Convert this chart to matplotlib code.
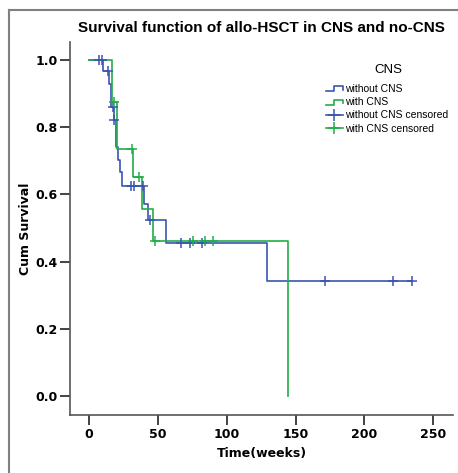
import numpy as np
import matplotlib
matplotlib.use("Agg")
from matplotlib import pyplot as plt
from matplotlib.lines import Line2D
from matplotlib.legend_handler import HandlerBase

# 无 CNS 组：事件时间 / 生存率
time_no = [0, 10.4, 14.5, 15.7, 17.9, 19.8, 21.0, 22.2, 23.7, 39.9, 43.1, 55.9, 129.5]
surv_no = [1.0, 0.968, 0.93, 0.861, 0.821, 0.742, 0.704, 0.666, 0.626, 0.573, 0.524, 0.456, 0.341]
cens_no = [7.3, 9.7, 13.6, 17.5, 18.4, 30.5, 32.9, 39.0, 44.3, 66.8, 73.3, 81.8, 171.4, 221.0, 234.3]

# CNS 组
time_cns = [0, 16.5, 20.6, 32.2, 38.2, 46.7, 144.3]
surv_cns = [1.0, 0.876, 0.734, 0.651, 0.556, 0.462, 0.0]
cens_cns = [18.4, 31.5, 36.3, 47.9, 75.3, 84.2, 90.3]

x_ticks = [0, 50, 100, 150, 200, 250]
y_ticks = [0.0, 0.2, 0.4, 0.6, 0.8, 1.0]

blue = '#3a55b0'
green = '#22ad48'


def surv_at(times, surv, t):
    idx = np.searchsorted(times, t, side='right') - 1
    return np.array(surv)[idx]


class StepHandler(HandlerBase):
    # 图例里画成小台阶
    def create_artists(self, legend, orig_handle, xdescent, ydescent, width, height, fontsize, trans):
        x0 = -xdescent
        y0 = -ydescent
        xs = [x0, x0 + width * 0.5, x0 + width * 0.5, x0 + width, x0 + width]
        ys = [y0 + height * 0.1, y0 + height * 0.1, y0 + height * 0.8, y0 + height * 0.8, y0 + height * 0.3]
        ln = Line2D(xs, ys, color=orig_handle.get_color(), lw=1.2, transform=trans)
        return [ln]


plt.rcParams['font.family'] = ['Liberation Sans', 'DejaVu Sans']
fig = plt.figure(figsize=(4.58, 4.73), dpi=100)
ax = fig.add_axes([0.1528, 0.1226, 0.8362, 0.7886])

# 外框
fig.add_artist(Line2D([9 / 458, 9 / 458], [0, 1 - 10 / 473], transform=fig.transFigure, color='#808080', lw=1.5))
fig.add_artist(Line2D([9 / 458, 1], [1 - 10 / 473, 1 - 10 / 473], transform=fig.transFigure, color='#808080', lw=1.5))

# 生存曲线
xb = time_no + [max(cens_no)]
yb = surv_no + [surv_no[-1]]
ax.plot(xb, yb, drawstyle='steps-post', color=blue, lw=1.2)
ax.plot(time_cns, surv_cns, drawstyle='steps-post', color=green, lw=1.2)

ax.plot(cens_no, surv_at(time_no, surv_no, cens_no), linestyle='none', marker='+', ms=7, mew=1.1, color=blue)
ax.plot(cens_cns, surv_at(time_cns, surv_cns, cens_cns), linestyle='none', marker='+', ms=7, mew=1.1, color=green)

ax.set_xlim(-13.8, 264.3)
ax.set_ylim(-0.0565, 1.054)
ax.set_xticks(x_ticks)
ax.set_yticks(y_ticks)
ax.set_yticklabels(['%.1f' % v for v in y_ticks])
for s in ['top', 'right']:
    ax.spines[s].set_visible(False)
for s in ['left', 'bottom']:
    ax.spines[s].set_color('#555555')
    ax.spines[s].set_linewidth(1.2)
ax.tick_params(direction='out', length=7, width=1.2, color='#222222', labelsize=9, pad=2)
for lab in ax.get_xticklabels() + ax.get_yticklabels():
    lab.set_fontweight('bold')
    lab.set_family('DejaVu Sans')

ax.set_xlabel('Time(weeks)', fontsize=9, fontweight='bold', family='DejaVu Sans', labelpad=5)
ax.set_ylabel('Cum Survival', fontsize=9, fontweight='bold', family='DejaVu Sans', labelpad=2)
ax.set_title('Survival function of allo-HSCT in CNS and no-CNS', fontsize=11, fontweight='bold', pad=7)

handles = [Line2D([], [], color=blue), Line2D([], [], color=green),
           Line2D([], [], color=blue, marker='+', ms=9, mew=1.1, lw=1.2),
           Line2D([], [], color=green, marker='+', ms=9, mew=1.1, lw=1.2)]
labels = ['without CNS', 'with CNS', 'without CNS censored', 'with CNS censored']
ax.text(0.832, 0.926, 'CNS', transform=ax.transAxes, ha='center', va='center', fontsize=9.5)
leg = ax.legend(handles, labels, loc='upper left', bbox_to_anchor=(0.658, 0.898),
                frameon=False, fontsize=7.5, handlelength=1.6,
                handletextpad=0.2, labelspacing=0.3, borderaxespad=0,
                handler_map={handles[0]: StepHandler(), handles[1]: StepHandler()})

fig.savefig('out.png', dpi=100)
